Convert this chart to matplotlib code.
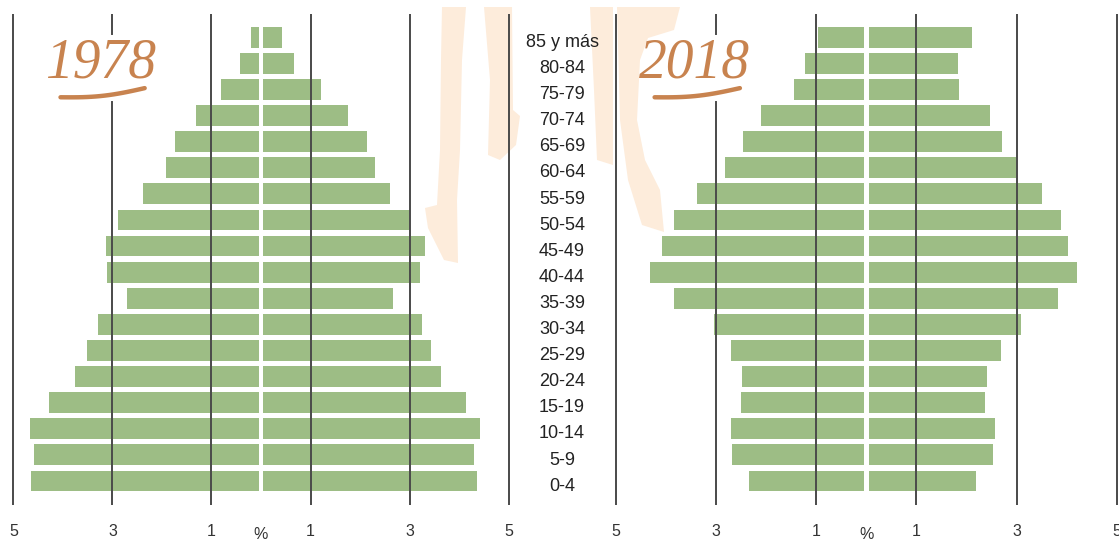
import numpy as np
import matplotlib.pyplot as plt
from matplotlib.transforms import blended_transform_factory
from matplotlib.patches import Polygon

# Grupos de edad (de abajo hacia arriba)
edades = ['0-4', '5-9', '10-14', '15-19', '20-24', '25-29', '30-34', '35-39',
          '40-44', '45-49', '50-54', '55-59', '60-64', '65-69', '70-74',
          '75-79', '80-84', '85 y más']

# % de población, 1978
izq_1978 = [4.65, 4.59, 4.67, 4.28, 3.75, 3.51, 3.30, 2.70, 3.11, 3.14,
            2.88, 2.39, 1.91, 1.73, 1.32, 0.81, 0.42, 0.20]
der_1978 = [4.36, 4.31, 4.42, 4.14, 3.64, 3.43, 3.25, 2.67, 3.22, 3.31,
            2.99, 2.61, 2.30, 2.15, 1.76, 1.22, 0.67, 0.43]

# % de población, 2018
izq_2018 = [2.33, 2.68, 2.70, 2.50, 2.47, 2.70, 3.03, 3.84, 4.31, 4.07,
            3.84, 3.38, 2.82, 2.45, 2.10, 1.45, 1.23, 0.96]
der_2018 = [2.19, 2.53, 2.56, 2.36, 2.40, 2.69, 3.08, 3.82, 4.21, 4.02,
            3.89, 3.50, 3.00, 2.70, 2.47, 1.85, 1.82, 2.10]

ticks = [-5, -3, -1, 1, 3, 5]
tick_labels = ['5', '3', '1', '1', '3', '5']

verde = '#9dbd85'
naranja = '#c8834f'
beige = '#fdecdb'
linea = '#4a4a4a'

W, H = 1119, 540
fig = plt.figure(figsize=(W / 100, H / 100), dpi=100)
plt.rcParams['font.family'] = ['Liberation Sans', 'DejaVu Sans']

# fondo decorativo (pinceladas beige)
bg = fig.add_axes([0, 0, 1, 1], zorder=0)
bg.set_xlim(0, W)
bg.set_ylim(H, 0)
bg.axis('off')
trazos = [
    [(442, 7), (466, 7), (462, 60), (460, 150), (457, 200), (458, 263), (444, 260),
     (428, 228), (425, 208), (437, 205), (440, 150), (441, 60)],
    [(484, 7), (512, 7), (513, 110), (520, 116), (516, 145), (500, 160), (488, 155), (490, 80)],
    [(590, 7), (613, 7), (613, 165), (597, 160), (594, 90)],
    [(617, 7), (680, 7), (674, 30), (648, 38), (640, 60), (637, 120), (645, 160),
     (660, 190), (664, 232), (642, 225), (628, 180), (620, 120)],
]
for t in trazos:
    bg.add_patch(Polygon(t, closed=True, color=beige, lw=0))

y = np.arange(len(edades))
gap = 0.045
bar_h = 0.8


def piramide(rect, izq, der, titulo, titulo_x):
    ax = fig.add_axes(rect, zorder=1)
    ax.patch.set_alpha(0)
    ax.barh(y, -(np.array(izq) - gap), left=-gap, height=bar_h, color=verde, zorder=2)
    ax.barh(y, np.array(der) - gap, left=gap, height=bar_h, color=verde, zorder=2)
    for t in ticks:
        if t == -3:
            # la linea se interrumpe detras del titulo
            ax.axvline(t, ymin=0, ymax=0.82, color=linea, lw=1.4, zorder=3)
            ax.axvline(t, ymin=0.96, ymax=1, color=linea, lw=1.4, zorder=3)
        else:
            ax.axvline(t, color=linea, lw=1.4, zorder=3)
    ax.set_xlim(-5.03, 5.03)
    ax.set_ylim(-0.92, 17.89)
    ax.set_xticks(ticks)
    ax.set_xticklabels(tick_labels, fontsize=11.5, color='#333333')
    ax.tick_params(axis='x', length=0, pad=14)
    ax.set_yticks([])
    for s in ax.spines.values():
        s.set_visible(False)
    ax.text(0, -2.05, '%', ha='center', va='center', fontsize=11.5, color='#333333')
    # titulo manuscrito
    ax.text(titulo_x, 16.0, titulo, ha='center', va='center', fontsize=40,
            style='italic', color=naranja, family='Liberation Serif', zorder=4)
    xs = np.linspace(titulo_x - 0.8, titulo_x + 0.9, 20)
    tt = (xs - xs[0]) / (xs[-1] - xs[0])
    ax.plot(xs, 14.7 + 0.35 * tt - 0.12 * np.sin(tt * np.pi),
            color=naranja, lw=3.2, solid_capstyle='round', zorder=5)
    return ax


ax1 = piramide([12 / W, 35 / H, 498 / W, 491 / H], izq_1978, der_1978, '1978', -3.25)
ax2 = piramide([614 / W, 35 / H, 504.5 / W, 491 / H], izq_2018, der_2018, '2018', -3.42)

# etiquetas de edad en la columna central
tr = blended_transform_factory(fig.transFigure, ax1.transData)
for i, e in enumerate(edades):
    fig.text(562 / W, y[i] - 0.2, e, transform=tr, ha='center', va='center',
             fontsize=13, color='#222222', zorder=6)

fig.savefig('out.png', dpi=100)
